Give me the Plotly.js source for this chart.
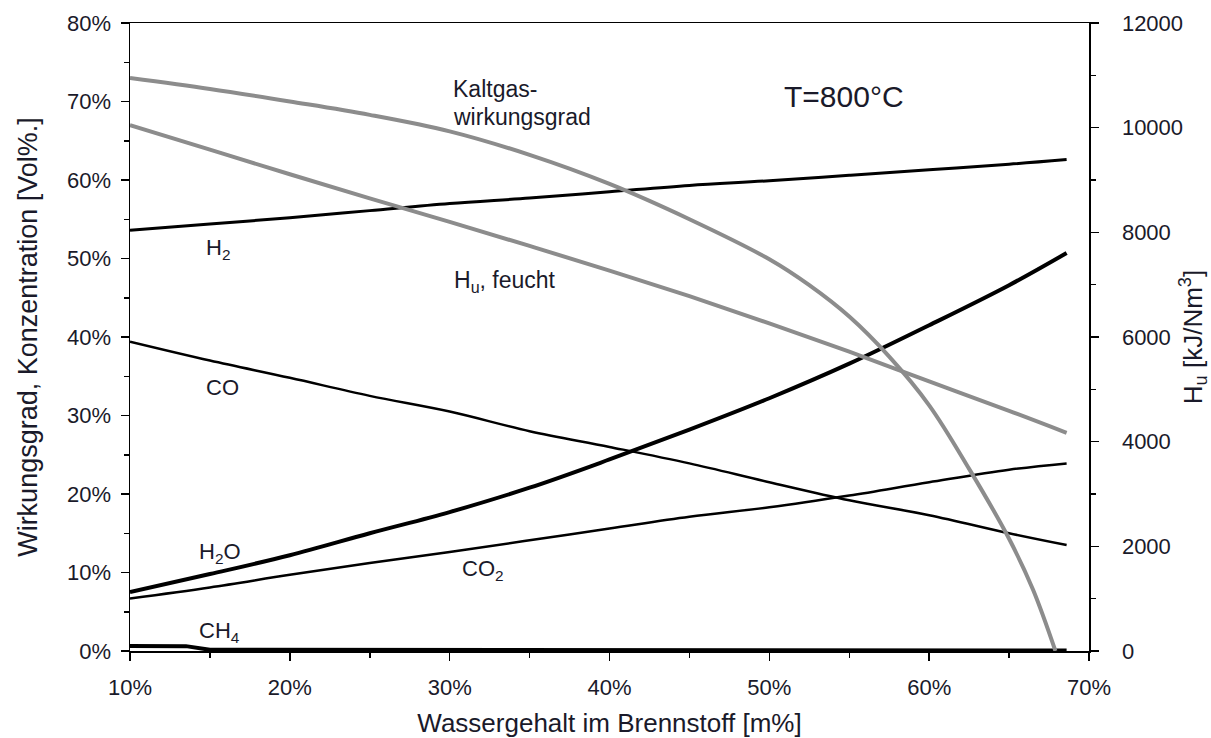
<!DOCTYPE html>
<html>
<head>
<meta charset="utf-8">
<script src="https://cdn.plot.ly/plotly-3.0.1.min.js"></script>
<style>html,body{margin:0;padding:0;background:#fff;}#chart{width:1211px;height:738px;}</style>
</head>
<body>
<div id="chart"></div>
<script>
// Water content in fuel [m%]
const wasser = [10, 15, 20, 25, 30, 35, 40, 45, 50, 55, 60, 65, 68.6];
// Gas concentrations [Vol%]
const h2  = [53.6, 54.4, 55.2, 56.1, 57.0, 57.7, 58.5, 59.3, 59.9, 60.6, 61.3, 62.0, 62.6];
const co  = [39.4, 37.0, 34.8, 32.5, 30.5, 28.0, 26.0, 23.9, 21.5, 19.2, 17.3, 15.0, 13.5];
const h2o = [7.5, 9.8, 12.2, 15.0, 17.7, 20.8, 24.4, 28.2, 32.2, 36.6, 41.5, 46.6, 50.7];
const co2 = [6.7, 8.1, 9.7, 11.2, 12.6, 14.1, 15.6, 17.1, 18.3, 19.8, 21.5, 23.1, 23.9];
const ch4Wasser = [10, 13.5, 15, 25, 35, 45, 54, 55, 68.6];
const ch4 = [0.65, 0.62, 0.15, 0.15, 0.15, 0.15, 0.15, 0.05, 0.05];
// Cold gas efficiency [%]
const kgWasser = [10, 15, 20, 25, 30, 35, 40, 45, 50, 52.5, 55, 57.5, 60, 62.5, 65, 66.5, 67.9];
const kaltgas  = [73.0, 71.6, 70.0, 68.3, 66.2, 63.2, 59.5, 55.0, 49.9, 46.6, 42.6, 37.5, 31.3, 23.2, 14.3, 7.8, 0];
// Lower heating value, wet [kJ/Nm3]
const huFeucht = [10050, 9580, 9110, 8650, 8200, 7740, 7270, 6780, 6260, 5720, 5150, 4590, 4170];

const black = '#000000';
const grey = '#8c8c8c';
const fontFam = 'Liberation Sans, Arial, sans-serif';
const txt = '#1a1a2a';

const traces = [
  {x: wasser, y: h2, name: 'H2', mode: 'lines', line: {color: black, width: 3, shape: 'spline'}},
  {x: wasser, y: co, name: 'CO', mode: 'lines', line: {color: black, width: 2.5, shape: 'spline'}},
  {x: wasser, y: h2o, name: 'H2O', mode: 'lines', line: {color: black, width: 4, shape: 'spline'}},
  {x: wasser, y: co2, name: 'CO2', mode: 'lines', line: {color: black, width: 2.5, shape: 'spline'}},
  {x: ch4Wasser, y: ch4, name: 'CH4', mode: 'lines', line: {color: black, width: 4}},
  {x: kgWasser, y: kaltgas, name: 'Kaltgaswirkungsgrad', mode: 'lines', line: {color: grey, width: 4, shape: 'spline'}},
  {x: wasser, y: huFeucht, name: 'Hu, feucht', yaxis: 'y2', mode: 'lines', line: {color: grey, width: 4, shape: 'spline'}}
];

const ann = (x, y, text, size) => ({x: x, y: y, xref: 'paper', yref: 'paper', text: text, showarrow: false,
  xanchor: 'left', yanchor: 'middle', font: {family: fontFam, size: size || 22, color: txt}});

// paper coords helpers (plot area: x 130..1089, y 23..651)
const px = v => (v - 130) / 959;
const py = v => (651 - v) / 628;

const layout = {
  width: 1211, height: 738,
  margin: {l: 130, r: 122, t: 23, b: 87},
  paper_bgcolor: '#fff', plot_bgcolor: '#fff',
  showlegend: false,
  font: {family: fontFam, size: 22, color: txt},
  xaxis: {
    range: [10, 70], dtick: 10, tick0: 10, ticksuffix: '%',
    showgrid: false, zeroline: false, showline: true, linecolor: '#000', linewidth: 1.5, mirror: true,
    ticks: 'outside', ticklen: 8, tickwidth: 1.5, tickcolor: '#000',
    minor: {dtick: 5, ticks: 'outside', ticklen: 5, tickwidth: 1.5, tickcolor: '#000', showgrid: false},
    ticklabelstandoff: 8,
    tickfont: {family: fontFam, size: 22, color: txt},
    title: {text: 'Wassergehalt im Brennstoff [m%]', standoff: 15, font: {family: fontFam, size: 26, color: txt}}
  },
  yaxis: {
    range: [0, 80], dtick: 10, ticksuffix: '%',
    showgrid: false, zeroline: false, showline: true, linecolor: '#000', linewidth: 1.5,
    ticks: 'outside', ticklen: 8, tickwidth: 1.5, tickcolor: '#000',
    minor: {dtick: 5, ticks: 'outside', ticklen: 5, tickwidth: 1.5, tickcolor: '#000', showgrid: false},
    ticklabelstandoff: 5,
    tickfont: {family: fontFam, size: 22, color: txt},
    title: {text: 'Wirkungsgrad, Konzentration [Vol%.]', standoff: 21, font: {family: fontFam, size: 27, color: txt}}
  },
  yaxis2: {
    range: [0, 12000], dtick: 2000, tickformat: 'd', overlaying: 'y', side: 'right',
    showgrid: false, zeroline: false, showline: true, linecolor: '#000', linewidth: 1.5,
    ticks: 'outside', ticklen: 8, tickwidth: 1.5, tickcolor: '#000',
    minor: {dtick: 1000, ticks: 'outside', ticklen: 5, tickwidth: 1.5, tickcolor: '#000', showgrid: false},
    ticklabelstandoff: 19,
    tickfont: {family: fontFam, size: 22, color: txt},
    title: {text: 'H<sub>u</sub> [kJ/Nm<sup>3</sup>]', standoff: 21, font: {family: fontFam, size: 26, color: txt}}
  },
  annotations: [
    ann(px(451), py(89), 'Kaltgas-', 23),
    ann(px(451), py(117), 'wirkungsgrad', 23),
    ann(px(782), py(97), 'T=800°C', 30),
    ann(px(204), py(249), 'H<sub>2</sub>', 22),
    ann(px(452), py(281), 'H<sub>u</sub>, feucht', 23),
    ann(px(204), py(387), 'CO', 22),
    ann(px(197), py(553), 'H<sub>2</sub>O', 22),
    ann(px(460), py(570), 'CO<sub>2</sub>', 22),
    ann(px(197), py(632), 'CH<sub>4</sub>', 22)
  ]
};

Plotly.newPlot('chart', traces, layout, {displayModeBar: false, staticPlot: true});
</script>
</body>
</html>
